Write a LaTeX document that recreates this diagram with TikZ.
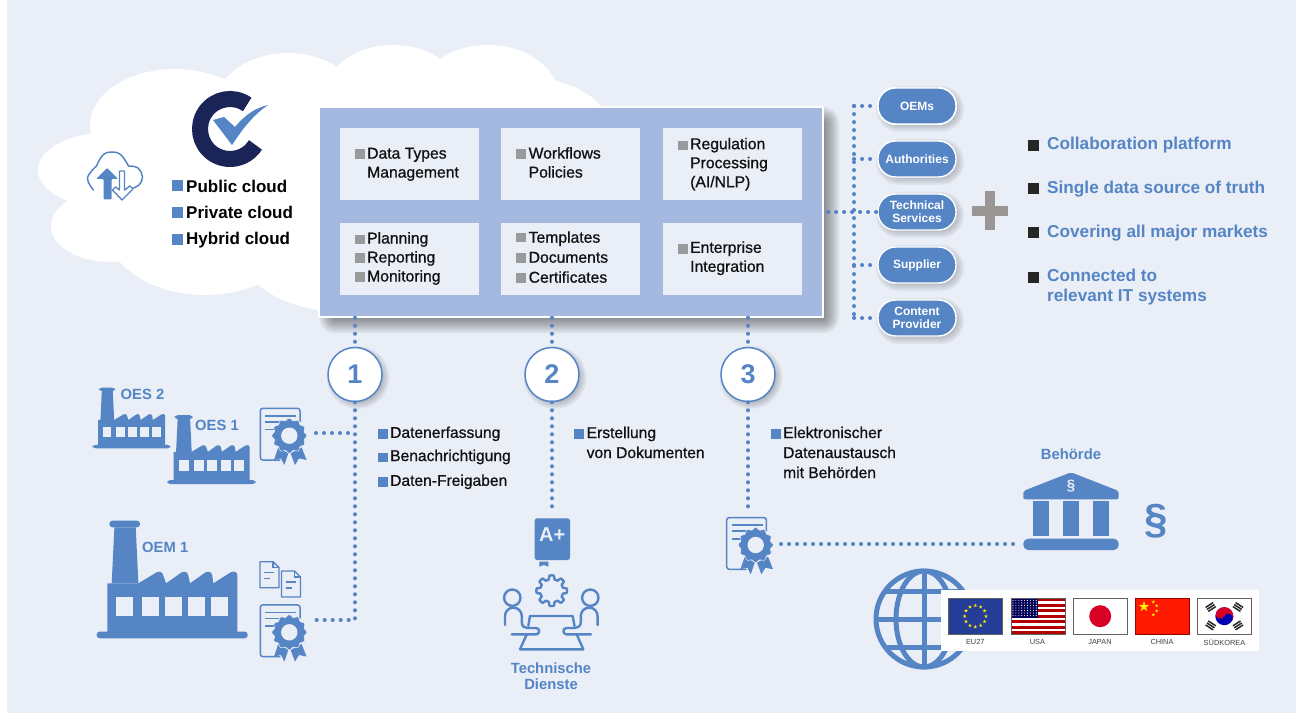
\documentclass[tikz,border=0pt]{standalone}
\usepackage{fontspec}
\setmainfont{Liberation Sans}
\newfontfamily\medf[FakeBold=0.8]{Liberation Sans}
\usetikzlibrary{calc}
\definecolor{bg}{HTML}{E9EEF7}
\definecolor{cblue}{HTML}{5585C5}
\definecolor{boxblue}{HTML}{A5B8DF}
\definecolor{sqgray}{HTML}{9A9A9C}
\definecolor{navy}{HTML}{1A2456}
\definecolor{plusgray}{HTML}{9B9696}
\definecolor{txtblack}{HTML}{111111}
\definecolor{eublue}{HTML}{243E97}
\tikzset{
 dotline/.style={draw=cblue,line width=4pt,line cap=round,dash pattern=on 0.1pt off 7.9pt},
 lab/.style={inner sep=0pt,anchor=west,align=left,text=txtblack,font=\medf\fontsize{15.7}{19}\selectfont},
 lab2/.style={inner sep=0pt,anchor=west,align=left,text=txtblack,font=\medf\fontsize{15.6}{20}\selectfont},
 cloudlab/.style={inner sep=0pt,anchor=west,text=black,font=\bfseries\fontsize{17}{20}\selectfont},
 bluelab/.style={inner sep=0pt,text=cblue,font=\bfseries\fontsize{14.8}{16}\selectfont,align=center},
 rightlab/.style={inner sep=0pt,anchor=west,align=left,text=cblue,font=\bfseries\fontsize{17.2}{20}\selectfont},
 pill/.style={draw=white,line width=1.4pt,fill=cblue,rounded corners=17.5pt,minimum width=78pt,minimum height=36pt,inner sep=0pt,align=center,text=white,font=\bfseries\fontsize{12}{13}\selectfont},
 numc/.style={circle,draw=cblue,line width=1.5pt,fill=white,minimum size=54pt,inner sep=0pt,text=cblue,font=\bfseries\fontsize{27}{28}\selectfont},
 ib/.style={fill=bg},
 flaglab/.style={inner sep=0pt,text=black!75,font=\fontsize{7.4}{9}\selectfont},
 flagframe/.style={draw=black!62,line width=1pt},
 ic/.style={draw=cblue,line width=2.4pt,line cap=round,line join=round}
}
\newcommand\sq[4]{\fill[#4] (#1,{#2-#3/2}) rectangle ({#1+#3},{#2+#3/2});}
\newcommand\shadowrect[9]{% x1 y1 x2 y2 off spread steps opacity cornerbase
 \foreach \i in {1,...,#7}{
  \pgfmathsetmacro\e{#6*(1-2*(\i-1)/(#7-1))}
  \pgfmathsetmacro\rc{max(1,#9+\e)}
  \fill[black,opacity=#8,rounded corners=\rc pt] ({#1+#5-\e},{#2+#5-\e}) rectangle ({#3+#5+\e},{#4+#5+\e});
 }}
\newcommand\factory[3]{\begin{scope}[shift={(#1,#2)},scale=#3]
 \fill[cblue,rounded corners=3pt] (0,-6.7) rectangle (151,0);
 \fill[cblue] (10.7,-3) -- (10.7,-55) -- (41.7,-55)
   -- (60,-66) .. controls (63,-67.5) and (66,-66) .. (66.5,-63) -- (69.4,-55)
   -- (85,-66) .. controls (88,-67.5) and (91,-66) .. (91.5,-63) -- (93.3,-55)
   -- (109,-66) .. controls (112,-67.5) and (115,-66) .. (115.5,-63) -- (116.7,-55)
   -- (134,-66) .. controls (137,-67.5) and (140.7,-66.5) .. (140.7,-63) -- (140.7,-3) -- cycle;
 \fill[cblue] (17.7,-111) -- (39,-111) -- (41.7,-55) -- (15,-55) -- cycle;
 \fill[cblue,rounded corners=3pt] (12.7,-117.7) rectangle (43.3,-111);
 \foreach \u in {19.3,45.7,68.7,91.7,114.7} \fill[bg] (\u,-41) rectangle ({\u+17},-22.7);
\end{scope}}
\newcommand\certificate[2]{\begin{scope}[shift={(#1,#2)}]
 \draw[cblue,line width=1.5pt,rounded corners=2.5pt,line join=round] (-9,24.3) -- (-29,24.3) -- (-29,-27.4) -- (10.7,-27.4) -- (10.7,-14);
 \foreach \a/\b in {-20/7,-14/-8,-6.3/-15} \draw[cblue,line width=1.6pt] (-24,\a) -- (\b,\a);
 \fill[cblue] (-11,11.7) -- (-15.3,24.3) -- (-8.3,22.7) -- (-5,29.3) -- (-1,17.7) -- cycle;
 \fill[cblue] (12.3,11.7) -- (17.3,24.3) -- (9.7,22.7) -- (5.7,29.3) -- (1.3,17.7) -- cycle;
 \filldraw[fill=cblue,draw=bg,line width=.5pt] plot[domain=0:360,samples=121,smooth] (\x:{16.4+1.1*cos(12*\x)}) -- cycle;
 \fill[bg] (0,0) circle (8.2);
\end{scope}}
\newcommand\docicon[2]{\begin{scope}[shift={(#1,#2)}]
 \draw[cblue,line width=1.4pt,line join=round] (0,0) -- (13,0) -- (19,6) -- (19,26) -- (0,26) -- cycle;
 \draw[cblue,line width=1.2pt] (13,0) -- (13,6) -- (19,6);
 \draw[cblue,line width=1.4pt] (4,11) -- (14,11) (4,17) -- (10,17);
\end{scope}}
\newcommand\sstar[4]{\fill[#4] ({#1+#3*cos(270)},{#2+#3*sin(270)})
 \foreach \k in {1,...,9}{ -- ({#1+(#3*(1-0.62*mod(\k,2)))*cos(270+36*\k)},{#2+(#3*(1-0.62*mod(\k,2)))*sin(270+36*\k)}) } -- cycle;}
\newcommand\trigram[3]{\begin{scope}[shift={(#1,#2)},rotate=#3]
 \foreach \o in {-2.4,0,2.4} \fill[black!85] (-4.5,{\o-.75}) rectangle (4.5,{\o+.75});
\end{scope}}
\begin{document}
\begin{tikzpicture}[x=1pt,y=-1pt]
\useasboundingbox (0,0) rectangle (1296,714);
\fill[white] (0,0) rectangle (1296,714);
\fill[bg] (7,0) rectangle (1296,713);
% cloud
\fill[white] (105,170) ellipse [x radius=67,y radius=37];
\fill[white] (110,226) ellipse [x radius=59,y radius=36];
\fill[white] (175,125) ellipse [x radius=85,y radius=56];
\fill[white] (288,110) ellipse [x radius=75,y radius=57];
\fill[white] (393,90) ellipse [x radius=65,y radius=45];
\fill[white] (488,100) ellipse [x radius=72,y radius=55];
\fill[white] (530,140) ellipse [x radius=85,y radius=62];
\fill[white] (205,225) ellipse [x radius=100,y radius=70];
\fill[white] (345,250) ellipse [x radius=105,y radius=62];
\fill[white] (120,130) rectangle (420,260);
% logo
\draw[navy,line width=16pt] ({230+30*cos(55)},{129-30*sin(55)}) arc[start angle=-55,end angle=-328,radius=30];
\fill[cblue] (213,120) -- (224,117) -- (235,127) .. controls (245,115) and (255,108) .. (268,105) .. controls (252,116) and (242,130) .. (232,145) -- cycle;
% cloud icon
\draw[cblue,line width=1.5pt,line cap=round] plot[smooth,tension=.7] coordinates {(93.5,190) (87.5,178) (96.5,166)};
\draw[cblue,line width=1.5pt] plot[smooth,tension=.7] coordinates {(96.5,166) (103,155) (112,152) (121,155) (128.5,166)};
\draw[cblue,line width=1.5pt,line cap=round] plot[smooth,tension=.7] coordinates {(128.5,166) (138,168) (142.5,177) (139,185) (133,188)};
\fill[cblue,rounded corners=1pt] (107,168) -- (118,179) -- (111.5,179) -- (111.5,199.5) -- (103.5,199.5) -- (103.5,179) -- (96,179) -- cycle;
\filldraw[fill=white,draw=cblue,line width=1.4pt,line join=round] (119.5,171) -- (124.5,171) -- (124.5,190) -- (130,186) -- (133,189) -- (122,200) -- (112.5,190) -- (115.5,187) -- (119.5,190) -- cycle;
% cloud list
\sq{172}{186}{11}{cblue}\sq{172}{213}{11}{cblue}\sq{172}{240}{11}{cblue}
\node[cloudlab] (pub) at (186,186) {Public cloud};
\node[cloudlab] (pri) at (186,212.5) {Private cloud};
\node[cloudlab] (hyb) at (186,240.3) {Hybrid cloud};
% main box
\shadowrect{319}{107}{823}{317}{8}{8}{9}{0.06}{8}
\node[draw=white,line width=1.4pt,fill=boxblue,minimum width=504pt,minimum height=210pt,inner sep=0pt] (box) at (571,212) {};
\fill[ib] (340,128) rectangle (479,200);
\fill[ib] (501,128) rectangle (640,200);
\fill[ib] (663,128) rectangle (802,200);
\fill[ib] (340,223) rectangle (479,295);
\fill[ib] (501,223) rectangle (640,295);
\fill[ib] (663,223) rectangle (802,295);
\sq{355}{154}{9.5}{sqgray}
\node[lab] (b1) at (367,164.3) {\strut Data Types\\\strut Management};
\sq{516}{154}{9.5}{sqgray}
\node[lab] (b2) at (528.5,164.3) {\strut Workflows\\\strut Policies};
\sq{678}{145.5}{9.5}{sqgray}
\node[lab] (b3) at (690,164.4) {\strut Regulation\\\strut Processing\\\strut (AI/NLP)};
\sq{355}{239.5}{9.5}{sqgray}\sq{355}{258}{9.5}{sqgray}\sq{355}{277}{9.5}{sqgray}
\node[lab] (b4) at (367,258.7) {\strut Planning\\\strut Reporting\\\strut Monitoring};
\sq{516}{237.5}{9.5}{sqgray}\sq{516}{258}{9.5}{sqgray}\sq{516}{278}{9.5}{sqgray}
\node[lab,font=\medf\fontsize{15.7}{20}\selectfont] (b5) at (528.5,258.7) {\strut Templates\\\strut Documents\\\strut Certificates};
\sq{678}{249}{9.5}{sqgray}
\node[lab] (b6) at (690,258.5) {\strut Enterprise\\\strut Integration};
% pills
\foreach \y in {106,159,212,265,318} \shadowrect{878}{\y-18}{956}{\y+18}{3}{5}{6}{0.05}{18}
\node[pill] (oems) at (917,106) {OEMs};
\node[pill] (auth) at (917,159) {Authorities};
\node[pill] (tech) at (917,212) {Technical\\Services};
\node[pill] (supp) at (917,265) {Supplier};
\node[pill] (cont) at (917,318) {Content\\Provider};
\coordinate (hub) at (854,212);
\draw[dotline] (828,212) -- (tech.west);
\draw[dotline] (hub |- oems.west) -- (hub |- cont.west);
\draw[dotline] (hub |- oems.west) -- (oems.west);
\draw[dotline] (hub |- auth.west) -- (auth.west);
\draw[dotline] (hub |- supp.west) -- (supp.west);
\draw[dotline] (hub |- cont.west) -- (cont.west);
% plus
\fill[plusgray] (972,205.7) rectangle (1008,215.7);
\fill[plusgray] (985,191.5) rectangle (995,230.5);
% right list
\sq{1028}{145.6}{11}{black!85}\sq{1028}{189}{11}{black!85}\sq{1028}{233}{11}{black!85}\sq{1028}{277}{11}{black!85}
\node[rightlab] (r1) at (1047,145) {Collaboration platform};
\node[rightlab] (r2) at (1047,189) {Single data source of truth};
\node[rightlab] (r3) at (1047,233) {Covering all major markets};
\node[rightlab] (r4) at (1047,287.5) {Connected to\\relevant IT systems};
% circles
\foreach \x in {355,552,748} {\foreach \i in {1,...,7} {\fill[black,opacity=.05] ({\x+3},377.5) circle ({33-\i*1.7});}}
\node[numc] (c1) at (355,374.5) {1};
\node[numc] (c2) at (552,374.5) {2};
\node[numc] (c3) at (748,374.5) {3};
\draw[dotline] (box.south -| c1) -- (c1.north);
\draw[dotline] (box.south -| c2) -- (c2.north);
\draw[dotline] (box.south -| c3) -- (c3.north);
\coordinate (e1) at (316,433);
\coordinate (e2) at (309,620);
\coordinate (e3) at (552,512);
\coordinate (e4) at (748,512);
\coordinate (e5) at (781,544);
\coordinate (e6) at (1015,544);
\draw[dotline] (c1.south) -- (c1.south |- e2) -- (e2);
\draw[dotline] (e1) -- (e1 -| c1);
\draw[dotline] (c2.south) -- (e3);
\draw[dotline] (c3.south) -- (e4);
\draw[dotline] (e5) -- (e6);
% mid lists
\sq{378}{434}{9.5}{cblue}\sq{378}{457.5}{9.5}{cblue}\sq{378}{482}{9.5}{cblue}
\node[lab2] (m1) at (390,433.8) {Datenerfassung};
\node[lab2] (m2) at (390,457) {Benachrichtigung};
\node[lab2] (m3) at (390,481.8) {Daten-Freigaben};
\sq{574}{434}{9.5}{cblue}
\node[lab2] (m4) at (586.5,444) {\strut Erstellung\\\strut von Dokumenten};
\sq{771}{434}{9.5}{cblue}
\node[lab2] (m5) at (783,454) {\strut Elektronischer\\\strut Datenaustausch\\\strut mit Behörden};
% factories
\factory{92.7}{448.3}{.515}
\factory{167.3}{484}{.585}
\factory{96.7}{638.3}{1}
\node[bluelab,anchor=west] (oes2) at (120.5,394) {OES 2};
\node[bluelab,anchor=west] (oes1) at (195,425) {OES 1};
\node[bluelab,anchor=west] (oem1) at (142,547.3) {OEM 1};
\certificate{289.3}{435.7}
\certificate{289.3}{632.3}
\certificate{755.7}{545}
\docicon{260}{561.7}
\docicon{281.5}{571}
% Technische Dienste icon
\fill[cblue,rounded corners=2.5pt] (534.7,518.3) rectangle (570,560);
\node[inner sep=0pt,text=bg,font=\bfseries\fontsize{20}{22}\selectfont] (aplus) at (552.3,534.5) {A+};
\fill[cblue] (539.3,561.5) -- (548.3,561.5) -- (548.3,566.7) -- (543.8,565) -- (539.3,566.7) -- cycle;
\begin{scope}[shift={(551.7,590.7)}]
\draw[ic] plot[domain=0:360,samples=161] (\x:{13.4+1.9*max(-1,min(1,2.5*cos(8*\x)))}) -- cycle;
\end{scope}
\draw[ic] (512.3,597.7) circle (8.2);
\draw[ic] (590.3,597.7) circle (8.2);
\draw[ic] (505,625) -- (505,616) arc[start angle=180,end angle=360,radius=8.4] -- (521.8,622) .. controls (521.8,626) and (524,628) .. (527,628) -- (536,628) arc[start angle=270,end angle=450,radius=3.2] -- (511.7,634.4);
\draw[ic] (597.6,625) -- (597.6,616) arc[start angle=0,end angle=-180,radius=8.4] -- (580.8,622) .. controls (580.8,626) and (578,628) .. (575,628) -- (566.6,628) arc[start angle=270,end angle=90,radius=3.2] -- (591,634.4);
\draw[ic] (528.3,626) -- (530,616) -- (572.7,616) -- (574.5,626);
\draw[ic] (526.7,634.4) -- (520,649.3) -- (583.3,649.3) -- (576.7,634.4);
\node[bluelab] (td) at (551,676) {Technische\\Dienste};
% authority
\node[bluelab] (beh) at (1071,454.3) {Behörde};
\fill[cblue,rounded corners=2pt] (1071,472.3) -- (1118.7,491) -- (1118.7,499.3) -- (1023.3,499.3) -- (1023.3,491) -- cycle;
\node[inner sep=0pt,text=bg,font=\bfseries\fontsize{15}{17}\selectfont] (par1) at (1071,486) {§};
\foreach \u in {1033,1063,1093} \fill[cblue] (\u,501) rectangle ({\u+16},536);
\fill[cblue,rounded corners=5pt] (1023.3,538.7) rectangle (1118.7,550);
\node[inner sep=0pt,text=cblue,font=\bfseries\fontsize{42}{44}\selectfont] (par2) at (1155.7,521.7) {§};
% globe
\draw[cblue,line width=5pt] (924,619) circle (48);
\draw[cblue,line width=5pt] (924,619) ellipse [x radius=28,y radius=48];
\draw[cblue,line width=5pt] (924,571) -- (924,667);
\draw[cblue,line width=5pt] (876,619) -- (972,619);
\draw[cblue,line width=5pt] (884,591) -- (964,591);
\draw[cblue,line width=5pt] (884,647) -- (964,647);
% flags panel
\fill[white] (941,590) rectangle (1259,650.7);
% EU
\fill[eublue] (948.3,598.3) rectangle (1002.3,634);
\foreach \m in {0,30,...,330} {\sstar{975.3+10.7*cos(\m)}{616.2+10.7*sin(\m)}{2}{yellow!90!orange}}
\draw[flagframe] (948.3,598.3) rectangle (1002.3,634);
% USA
\fill[white] (1011,598.3) rectangle (1065,634);
\foreach \m in {0,2,...,12} \fill[red!70!black] (1011,{598.3+\m*2.746}) rectangle (1065,{598.3+(\m+1)*2.746});
\fill[blue!35!black] (1011,598.3) rectangle (1037.5,617.5);
\foreach \i in {0,...,8} \foreach \j in {0,...,6} \fill[white] ({1013+\i*2.9},{600.5+\j*2.5}) circle (.55);
\draw[flagframe] (1011,598.3) rectangle (1065,634);
% Japan
\fill[white] (1073.3,598.3) rectangle (1127,634);
\fill[red!85!blue] (1100.2,616.2) circle (11);
\draw[flagframe] (1073.3,598.3) rectangle (1127,634);
% China
\fill[red!80!orange] (1135.3,598.3) rectangle (1189,634);
\sstar{1144}{606.7}{5.5}{yellow}
\sstar{1153.3}{602}{1.8}{yellow}
\sstar{1156.7}{605.7}{1.8}{yellow}
\sstar{1156.7}{611}{1.8}{yellow}
\sstar{1153.3}{614.7}{1.8}{yellow}
\draw[draw=red!60!black,line width=1pt] (1135.3,598.3) rectangle (1189,634);
% Korea
\fill[white] (1197.7,598.3) rectangle (1251.3,634);
\begin{scope}[shift={(1224.3,616.2)},rotate=-25]
\fill[blue!70!black] (0,0) circle (9);
\fill[red!85!blue] (-9,0) arc[start angle=180,end angle=360,radius=9] -- cycle;
\fill[red!85!blue] (-4.5,0) circle (4.5);
\fill[blue!70!black] (4.5,0) circle (4.5);
\end{scope}
\trigram{1210.7}{607}{33}
\trigram{1238}{607}{-33}
\trigram{1210.7}{625.4}{-33}
\trigram{1238}{625.4}{33}
\draw[flagframe] (1197.7,598.3) rectangle (1251.3,634);
\node[flaglab] (l1) at (975.3,642) {EU27};
\node[flaglab] (l2) at (1037.5,642) {USA};
\node[flaglab] (l3) at (1100,642) {JAPAN};
\node[flaglab] (l4) at (1162,642) {CHINA};
\node[flaglab] (l5) at (1224.5,642) {SÜDKOREA};
\end{tikzpicture}
\end{document}
